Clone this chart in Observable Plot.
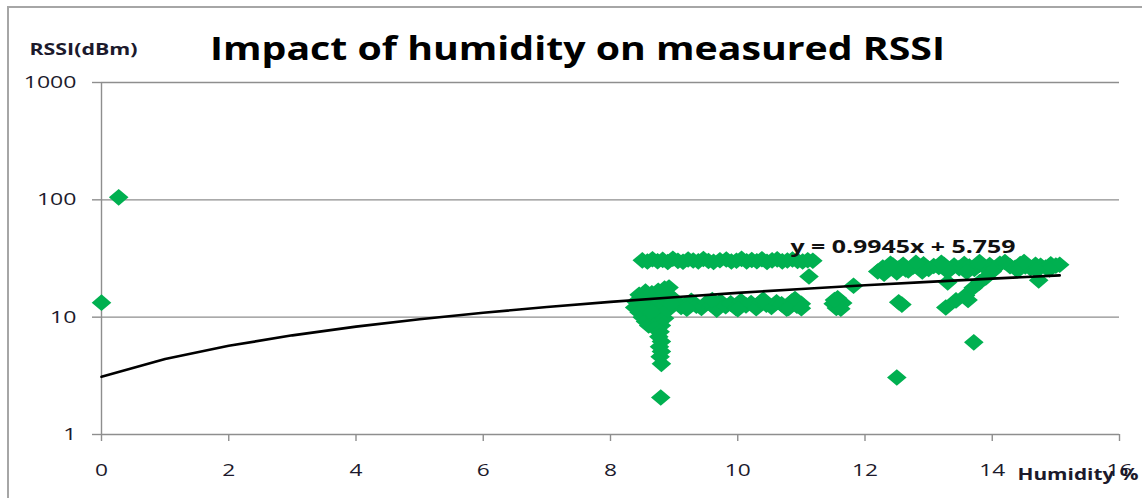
<!DOCTYPE html>
<html>
<head>
<meta charset="utf-8">
<script src="https://cdn.jsdelivr.net/npm/d3@7"></script>
<script src="https://cdn.jsdelivr.net/npm/@observablehq/plot@0.6"></script>
<style>
  html, body { margin: 0; padding: 0; background: #fff; }
  #chart { position: relative; width: 1142px; height: 498px; }
</style>
</head>
<body>
<div id="chart"></div>
<script>
// ---- Data ----
const titleText = "Impact of humidity on measured RSSI";
const yLabelText = "RSSI(dBm)";
const xLabelText = "Humidity %";
const equationText = "y = 0.9945x + 5.759";

const xTicks = [0, 2, 4, 6, 8, 10, 12, 14, 16];
const yTicks = [1, 10, 100, 1000];
const yGrid = [10, 100, 1000];

// Measured points: humidity (%) and RSSI (dBm)
const humidity = [
  // isolated
  0, 0.27,
  // upper band ~30
  8.50, 8.58, 8.66, 8.74, 8.82, 8.90, 8.98, 9.06, 9.14, 9.22, 9.30, 9.38, 9.46, 9.54, 9.62, 9.72, 9.82,
  9.90, 9.98, 10.06, 10.14, 10.22, 10.30, 10.38, 10.46, 10.54, 10.62, 10.70, 10.78, 10.86, 10.94, 11.02, 11.10, 11.18,
  // lower band ~13
  8.95, 9.03, 9.11, 9.19, 9.27, 9.35, 9.43, 9.51, 9.59, 9.67, 9.73, 9.81, 9.89, 9.97, 10.05, 10.13, 10.21,
  10.29, 10.37, 10.45, 10.53, 10.61, 10.69, 10.77, 10.85, 10.93, 11.00,
  9.20, 9.60, 10.00, 10.40, 10.80, 9.00, 10.90, 11.00,
  // blob near 8.4-8.95
  8.45, 8.55, 8.65, 8.75, 8.85, 8.92, 8.88, 8.40, 8.38, 8.45, 8.50, 8.55, 8.60, 8.50, 8.60, 8.70, 8.80,
  8.70, 8.65, 8.75, 8.85, 8.90, 8.80, 8.55, 8.65, 8.75, 8.85, 8.80, 8.70, 8.90, 8.95,
  // column at ~8.8
  8.78, 8.76, 8.80, 8.77, 8.80, 8.78, 8.80, 8.79,
  // blob near 11.57 and neighbours
  11.50, 11.57, 11.65, 11.55, 11.62, 11.52, 11.12, 11.82,
  // right band ~27
  12.20, 12.28, 12.36, 12.44, 12.52, 12.60, 12.68, 12.76, 12.84, 12.92, 13.00, 13.08, 13.16, 13.24, 13.32,
  13.40, 13.48, 13.56, 13.64, 13.72, 13.80, 13.88, 13.96, 14.04, 14.12, 14.20, 14.28, 14.36, 14.44, 14.52,
  14.60, 14.68, 14.76, 14.84, 14.92, 15.00, 15.06,
  12.30, 12.50, 12.90, 13.30, 13.60, 14.00, 14.40, 14.90, 12.40, 12.80, 13.20, 13.80, 14.50, 14.70, 12.64,
  // scattered right
  12.53, 12.58, 12.50, 13.71, 13.27, 13.43, 13.58, 13.30, 13.62, 13.70, 13.80, 13.90, 14.73
];
const rssi = [
  13.3, 105,
  30.5, 29.8, 31.2, 30.0, 30.8, 29.5, 31.5, 30.2, 29.7, 31.0, 30.4, 29.9, 31.3, 30.1, 29.6, 30.6, 31.0,
  29.8, 30.3, 31.4, 29.9, 30.7, 30.0, 31.2, 29.6, 30.5, 31.1, 29.9, 30.4, 31.0, 30.2, 29.8, 30.6, 30.3,
  12.8, 13.5, 12.2, 13.0, 13.8, 12.5, 12.0, 13.3, 12.7, 11.6, 13.6, 12.4, 13.1, 12.0, 13.7, 12.6, 13.2,
  11.9, 13.5, 12.8, 12.2, 13.4, 12.9, 11.8, 13.6, 12.5, 13.0,
  11.8, 14.0, 11.7, 14.1, 12.0, 14.2, 14.3, 11.9,
  15.5, 16.5, 16.0, 16.8, 17.5, 17.9, 16.0, 13.5, 12.1, 11.0, 10.0, 9.2, 8.5, 14.0, 13.0, 12.0, 11.0,
  10.0, 14.5, 13.8, 12.8, 14.5, 15.0, 12.0, 11.0, 9.0, 9.8, 8.5, 8.0, 11.5, 13.0,
  7.5, 6.8, 6.2, 5.6, 5.1, 4.6, 4.0, 2.07,
  13.0, 14.5, 13.2, 12.0, 11.8, 14.0, 22.2, 18.5,
  24.5, 26.5, 25.5, 27.5, 26.0, 28.0, 25.0, 27.0, 26.5, 28.2, 25.8, 27.3, 26.8, 28.0, 25.5,
  27.6, 26.2, 28.4, 27.0, 25.8, 28.0, 26.6, 27.8, 26.0, 28.5, 29.5, 27.2, 26.4, 28.3, 27.0,
  26.2, 28.0, 27.4, 26.5, 28.2, 27.5, 28.0,
  23.5, 24.0, 24.5, 24.5, 24.3, 24.5, 25.0, 25.5, 28.5, 29.0, 29.0, 29.5, 29.5, 25.0, 25.5,
  13.4, 12.8, 3.06, 6.1, 12.1, 13.9, 15.3, 19.8, 14.0, 17.8, 19.8, 21.8, 20.6
];

// Trend line as drawn in the picture (sampled readings)
const trendX = [0, 1, 2, 3, 4, 5, 6, 7, 8, 9, 10, 11, 12, 13, 14, 15.06];
const trendY = [3.1, 4.4, 5.7, 7.0, 8.3, 9.6, 10.9, 12.2, 13.5, 14.8, 16.1, 17.4, 18.7, 20.0, 21.3, 22.7];

// ---- Build tables ----
const points = humidity.map((h, i) => ({h, r: rssi[i]}));
const trend = trendX.map((x, i) => ({x, y: trendY[i]}));

const diamond = {
  draw(ctx) {
    ctx.moveTo(0, -8.3);
    ctx.lineTo(9.8, 0);
    ctx.lineTo(0, 8.3);
    ctx.lineTo(-9.8, 0);
    ctx.closePath();
  }
};

const GREY = "#8e8e8e";
const TXT = "#1c1a2c";

const border = () => {
  const g = d3.create("svg:g");
  g.append("path")
    .attr("d", "M8,500 L8,7 L1145,7")
    .attr("fill", "none")
    .attr("stroke", "#a6a6a6")
    .attr("stroke-width", 2);
  return g.node();
};

const chart = Plot.plot({
  width: 1142,
  height: 498,
  marginLeft: 101,
  marginRight: 23,
  marginTop: 82,
  marginBottom: 64,
  style: {fontFamily: "'Open Sans', sans-serif", background: "#fff", overflow: "visible"},
  x: {domain: [0, 16]},
  y: {type: "log", domain: [1, 1000]},
  marks: [
    border,
    Plot.ruleY(yGrid, {stroke: GREY, strokeWidth: 1.4}),
    Plot.ruleY([1], {stroke: GREY, strokeWidth: 1.4}),
    Plot.ruleX([0], {stroke: GREY, strokeWidth: 1.4}),
    Plot.axisY({ticks: yTicks, tickFormat: d => String(d), tickSize: 9, tickPadding: 16,
      stroke: GREY, strokeWidth: 1.4, fill: TXT, fontSize: 17, label: null}),
    Plot.axisX({ticks: xTicks, tickFormat: d => String(d), tickSize: 7, tickPadding: 22,
      stroke: GREY, strokeWidth: 1.4, fill: TXT, fontSize: 17, label: null}),
    Plot.dot(points, {x: "h", y: "r", symbol: diamond, fill: "#00b050", stroke: "none"}),
    Plot.line(trend, {x: "x", y: "y", stroke: "#000", strokeWidth: 2.6}),
    Plot.text([titleText], {className: "ttl", frameAnchor: "top", dx: -33, dy: -46, fontSize: 33, fontWeight: 700, fill: "#000"}),
    Plot.text([yLabelText], {className: "ylbl", frameAnchor: "top-left", textAnchor: "start", dx: -72, dy: -39, fontSize: 16.5, fontWeight: 700, fill: TXT}),
    Plot.text([xLabelText], {className: "xlbl", frameAnchor: "bottom-right", textAnchor: "start", dx: -102, dy: 45, fontSize: 16.5, fontWeight: 700, fill: TXT}),
    Plot.text([equationText], {className: "eq", frameAnchor: "top-left", textAnchor: "start", dx: 689, dy: 158, fontSize: 18, fontWeight: 700, fill: "#111"})
  ]
});

// Stretch glyphs horizontally to the wide rendering seen in the reference
const root = d3.select(chart);
const stretch = (sel, fn) => sel.each(function () {
  d3.select(this).attr("textLength", fn(this.textContent)).attr("lengthAdjust", "spacingAndGlyphs");
});
stretch(root.selectAll('g[aria-label="y-axis tick label"] text'), s => s.length * 13.2);
stretch(root.selectAll('g[aria-label="x-axis tick label"] text'), s => s.length * 13.0);
stretch(root.selectAll('.ttl text'), () => 735);
stretch(root.selectAll('.ylbl text'), () => 108);
stretch(root.selectAll('.xlbl text'), () => 121);
stretch(root.selectAll('.eq text'), () => 225);

document.getElementById("chart").appendChild(chart);
</script>
</body>
</html>
